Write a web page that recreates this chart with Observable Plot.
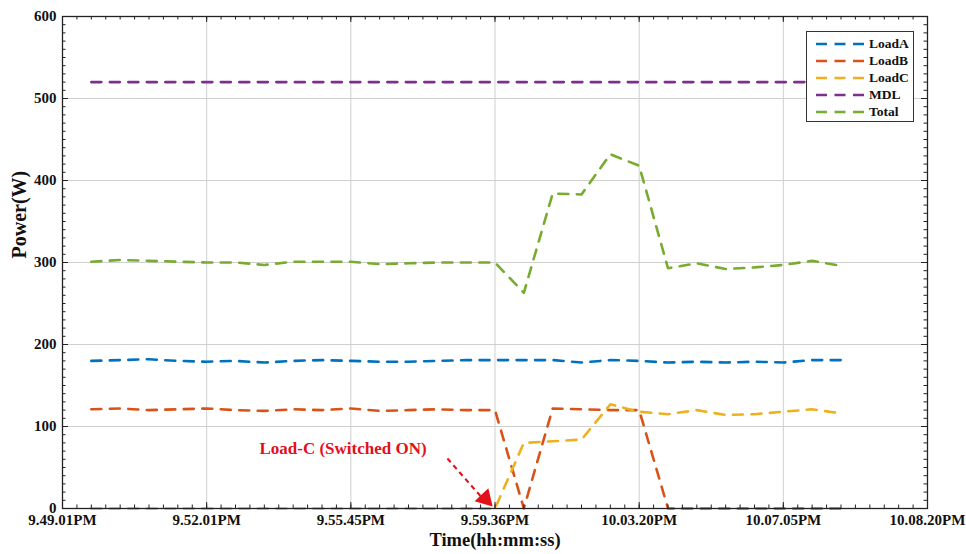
<!DOCTYPE html>
<html><head><meta charset="utf-8">
<script src="https://cdn.jsdelivr.net/npm/d3@7"></script>
<script src="https://cdn.jsdelivr.net/npm/@observablehq/plot@0.6"></script>
<style>
body{margin:0;background:#fff;}
#wrap{position:relative;width:966px;height:554px;}
#legend{position:absolute;left:806px;top:31px;width:108px;height:91px;border:1.2px solid #333;background:#fff;box-sizing:border-box;padding-top:3px;font-family:"Liberation Serif";font-weight:bold;font-size:13.5px;color:#111;}
.row{display:flex;align-items:center;height:17px;}
.row svg{margin-left:9px;margin-right:5px;}
</style></head><body><div id="wrap"></div><script>
// sample index 0..26 ; tick positions in sample units
const samples = d3.range(27);
const xTicks = [-1, 4, 9, 14, 19, 24, 29];
const xTickLabels = ["9.49.01PM","9.52.01PM","9.55.45PM","9.59.36PM","10.03.20PM","10.07.05PM","10.08.20PM"];
const yTicks = [0,100,200,300,400,500,600];
const seriesNames = ["LoadA","LoadB","LoadC","MDL","Total"];
const colors = ["#0072BD","#D95319","#EDB120","#7E2F8E","#77AC30"];
const loadA = [180,181,182,180,179,180,178,180,181,180,179,179,180,181,181,181,181,178,181,180,178,179,178,179,178,181,181];
const loadB = [121,122,120,121,122,120,119,121,120,122,119,120,121,120,120,0,122,121,120,120,0,0,0,0,0,0,0];
const loadC = [0,0,0,0,0,0,0,0,0,0,0,0,0,0,0,80,82,84,127,118,115,120,114,115,118,121,116];
const mdl = [520,520,520,520,520,520,520,520,520,520,520,520,520,520,520,520,520,520,520,520,520,520,520,520,520,520,520];
const total = [301,303,302,301,300,300,297,301,301,301,298,299,300,300,300,263,384,383,432,418,293,299,292,294,297,302,296];
const annText = [{x: 8.73, y: 73, text: "Load-C (Switched ON)"}];
const annArrow = [{x1: 12.35, y1: 61, x2: 13.6, y2: 11}];
const annHead = [{x: 13.66, y: 12}];

const seriesValues = [loadA, loadB, loadC, mdl, total];
const rows = [];
seriesNames.forEach((s, k) => samples.forEach(i => rows.push({series: s, i, v: seriesValues[k][i]})));

const W = 966, H = 554, mt = 16, mb = 46, ml = 62, mr = 39;
const fh = H - mt - mb, fw = W - ml - mr;
const xMinor = d3.range(-1, 29.01, 0.5);
const yMinor = d3.range(0, 601, 10);
const labelMap = new Map(xTicks.map((d, i) => [d, xTickLabels[i]]));
const red = "#e3101a";

const chart = Plot.plot({
  width: W, height: H, marginTop: mt, marginBottom: mb, marginLeft: ml, marginRight: mr,
  x: {domain: [-1, 29]},
  y: {domain: [0, 600]},
  color: {domain: seriesNames, range: colors},
  style: {fontFamily: "Liberation Serif", fontWeight: "bold", fontSize: "15px", background: "white", color: "#111", overflow: "visible"},
  marks: [
    Plot.gridX(xTicks, {stroke: "#cfcfcf", strokeOpacity: 1, strokeWidth: 1}),
    Plot.gridY(yTicks, {stroke: "#cfcfcf", strokeOpacity: 1, strokeWidth: 1}),
    Plot.line(rows, {x: "i", y: "v", z: "series", stroke: "series", strokeWidth: 2.6, strokeDasharray: "10,8.5"}),
    Plot.tickX(xMinor, {x: d => d, insetTop: fh - 3.5, stroke: "#222"}),
    Plot.tickX(xMinor, {x: d => d, insetBottom: fh - 3.5, stroke: "#222"}),
    Plot.tickX(xTicks, {x: d => d, insetTop: fh - 6, stroke: "#222"}),
    Plot.tickX(xTicks, {x: d => d, insetBottom: fh - 6, stroke: "#222"}),
    Plot.tickY(yMinor, {y: d => d, insetRight: fw - 3.5, stroke: "#222"}),
    Plot.tickY(yMinor, {y: d => d, insetLeft: fw - 3.5, stroke: "#222"}),
    Plot.tickY(yTicks, {y: d => d, insetRight: fw - 6, stroke: "#222"}),
    Plot.tickY(yTicks, {y: d => d, insetLeft: fw - 6, stroke: "#222"}),
    Plot.frame({stroke: "#222", strokeWidth: 1.3}),
    Plot.axisX(xTicks, {tickSize: 0, tickPadding: 6, tickFormat: d => labelMap.get(d), label: null}),
    Plot.axisY(yTicks, {tickSize: 0, tickPadding: 6, label: null}),
    Plot.text(["Time(hh:mm:ss)"], {frameAnchor: "bottom", dy: 37, fontSize: 18.5}),
    Plot.text(["Power(W)"], {frameAnchor: "left", dx: -43, dy: -4, rotate: -90, fontSize: 20}),
    Plot.text(annText, {x: "x", y: "y", text: "text", fill: red, fontSize: 17}),
    Plot.link(annArrow, {x1: "x1", y1: "y1", x2: "x2", y2: "y2", stroke: red, strokeWidth: 2, strokeDasharray: "5,4"}),
    Plot.dot(annHead, {x: "x", y: "y", symbol: "triangle", r: 7, rotate: 136.8, fill: red, stroke: "none"})
  ]
});
const wrap = document.getElementById("wrap");
wrap.appendChild(chart);

const legend = document.createElement("div");
legend.id = "legend";
seriesNames.forEach((s, k) => {
  const row = document.createElement("div");
  row.className = "row";
  row.innerHTML = `<svg width="48" height="6"><line x1="0" y1="3" x2="48" y2="3" stroke="${colors[k]}" stroke-width="2.6" stroke-dasharray="11,7.5"/></svg><span>${s}</span>`;
  legend.appendChild(row);
});
wrap.appendChild(legend);
</script></body></html>
